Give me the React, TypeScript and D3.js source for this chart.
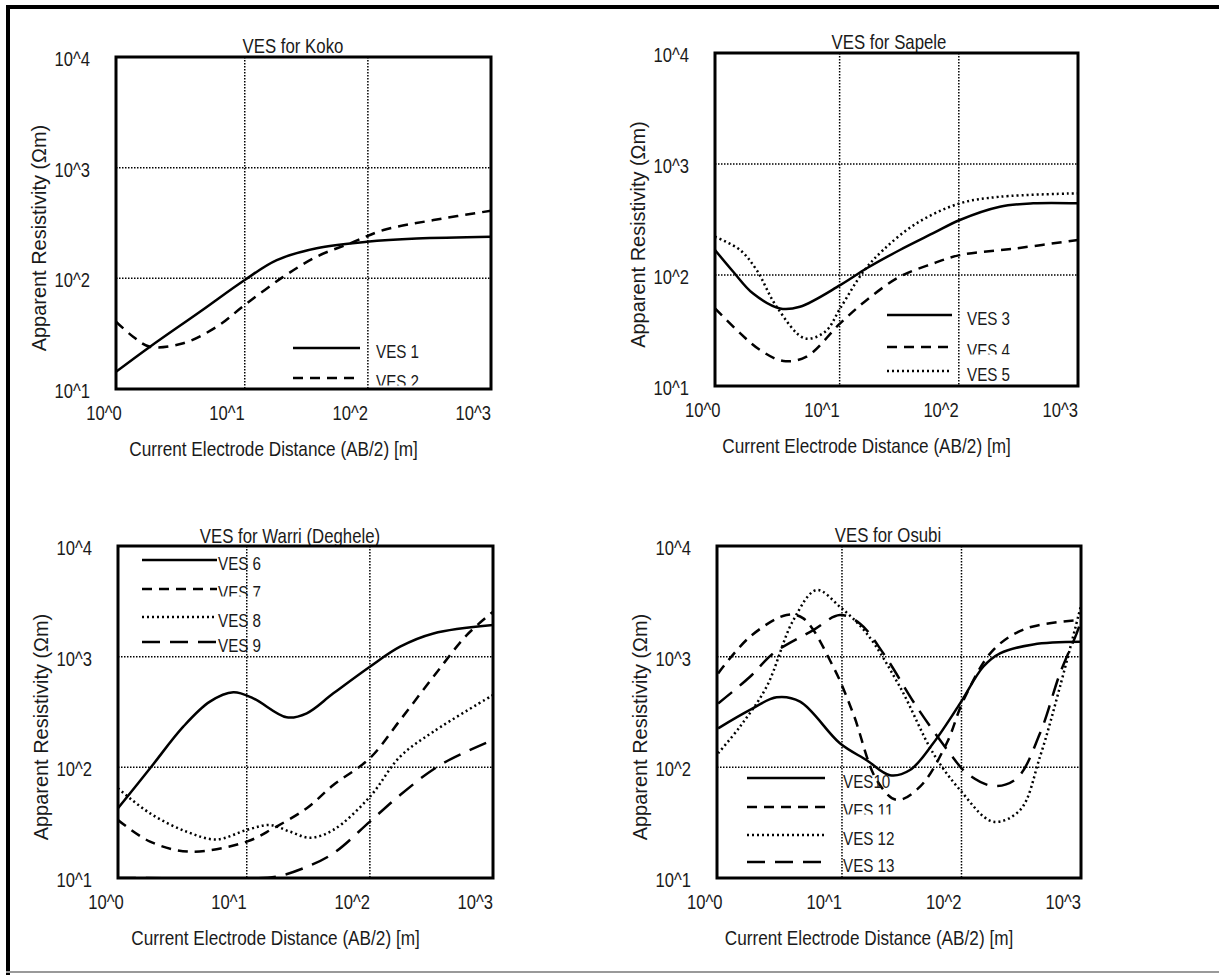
import React, { useEffect, useRef } from "react";
import * as d3 from "d3";

// axis ticks
const xTicks = [1, 10, 100, 1000];
const xTickLabels = ["10^0", "10^1", "10^2", "10^3"];
const yTicks = [10, 100, 1000, 10000];
const yTickLabels = ["10^1", "10^2", "10^3", "10^4"];
const gridX = [10, 100];
const gridY = [100, 1000];

// [AB/2 (m), apparent resistivity (ohm m)]
const ves1 = [[0.9, 14.3], [1.7, 24.1], [4.33, 49.9], [10, 96.6], [18.2, 146], [38.4, 187], [97.8, 214], [249, 229], [1000, 238]];
const ves2 = [[0.9, 40.6], [1.24, 29.7], [1.7, 24.1], [3.17, 25.9], [5.92, 36.5], [10, 57.4], [20.5, 103], [38.4, 157], [71.6, 207], [134, 273], [341, 336], [1000, 408]];

const ves3 = [[0.9, 168], [1.28, 107], [1.88, 68], [3.16, 50], [4.64, 51.8], [10.1, 81], [16.9, 115], [32, 168], [61, 238], [102, 313], [221, 412], [421, 442], [1000, 442]];
const ves4 = [[0.9, 50], [1.46, 29.9], [2.15, 21.1], [3.37, 16.8], [5.28, 18.4], [10.1, 36.7], [16.9, 59.6], [32, 96.7], [61, 127], [102, 151], [305, 174], [1000, 207]];
const ves5 = [[0.9, 221], [1.46, 168], [2.01, 111], [2.96, 51.8], [5.1, 26.9], [7.6, 31], [10.1, 50], [15.8, 107], [23.2, 168], [44.2, 292], [102, 442], [221, 507], [1000, 544]];

const ves6 = [[0.9, 42.7], [1.64, 98], [3.05, 233], [5.02, 392], [7.78, 476], [11.3, 420], [21.1, 283], [30.7, 308], [50.5, 466], [100, 811], [176, 1230], [328, 1620], [1000, 1930]];
const ves7 = [[0.9, 33.4], [1.64, 21.3], [3.46, 17.3], [10, 21.3], [16.4, 28.1], [30.7, 42.7], [50.5, 69.2], [100, 121], [176, 267], [328, 658], [612, 1566], [1000, 2546]];
const ves8 = [[0.9, 64.6], [1.64, 38.4], [3.25, 26.2], [5.7, 22.3], [10, 27.2], [15.5, 30.1], [22.5, 26.2], [32.7, 23.1], [50.5, 27.2], [100, 54.2], [176, 125], [328, 210], [1000, 450]];
const ves9 = [[0.9, 10], [4, 9.95], [10, 9.9], [17.5, 10.3], [30.7, 12.6], [50.5, 16.7], [100, 32.3], [176, 56.2], [372, 105], [1000, 177]];

const ves10 = [[0.92, 225], [1.7, 330], [2.84, 429], [4.46, 392], [9.6, 165], [16.1, 116], [25.2, 85], [37.1, 94.6], [58, 165], [97.3, 378], [152, 811], [210, 1071], [399, 1291], [1000, 1364]];
const ves11 = [[0.92, 706], [1.7, 1514], [3.44, 2377], [4.75, 2218], [8.45, 811], [12.4, 307], [19.5, 76.8], [28.7, 50.7], [45, 66.9], [75.2, 165], [104, 405], [184, 1148], [351, 1803], [1000, 2143]];
const ves12 = [[0.92, 134], [1.4, 233], [2.34, 535], [3.92, 2143], [6.14, 4000], [9.6, 2825], [16.1, 1622], [30.5, 535], [58, 134], [97.3, 62.4], [184, 32.3], [309, 41.1], [454, 125], [667, 535], [1000, 2900]];
const ves13 = [[0.92, 378], [1.7, 658], [2.66, 1071], [5.75, 1738], [9.6, 2377], [14.1, 1995], [22.2, 1071], [42.2, 352], [80, 134], [111, 88.3], [184, 67.8], [290, 79.4], [454, 203], [667, 706], [920, 1622], [1000, 2100]];

const dashes: Record<string, string | null> = {
  solid: null,
  dash: "10 7",
  dot: "2 3",
  longdash: "18 10",
};

const FONT = "'Liberation Sans', Arial, sans-serif";

const panels = [
  {
    title: "VES for Koko",
    box: { left: 116, top: 57, width: 375, height: 332 },
    titleX: 293, titleY: 53,
    series: [
      { name: "VES 1", data: ves1, style: "solid" },
      { name: "VES 2", data: ves2, style: "dash" },
    ],
    legend: { x1: 293, x2: 360, tx: 376, ys: [348, 378] },
  },
  {
    title: "VES for Sapele",
    box: { left: 715, top: 53, width: 363, height: 333 },
    titleX: 889, titleY: 49,
    series: [
      { name: "VES 3", data: ves3, style: "solid" },
      { name: "VES 4", data: ves4, style: "dash" },
      { name: "VES 5", data: ves5, style: "dot" },
    ],
    legend: { x1: 887, x2: 952, tx: 967, ys: [315, 347, 371] },
  },
  {
    title: "VES for Warri (Deghele)",
    box: { left: 118, top: 546, width: 375, height: 332 },
    titleX: 290, titleY: 543,
    series: [
      { name: "VES 6", data: ves6, style: "solid" },
      { name: "VES 7", data: ves7, style: "dash" },
      { name: "VES 8", data: ves8, style: "dot" },
      { name: "VES 9", data: ves9, style: "longdash" },
    ],
    legend: { x1: 142, x2: 217, tx: 218, ys: [560, 589, 617, 642] },
  },
  {
    title: "VES for Osubi",
    box: { left: 717, top: 546, width: 364, height: 332 },
    titleX: 888, titleY: 542,
    series: [
      { name: "VES10", data: ves10, style: "solid" },
      { name: "VES 11", data: ves11, style: "dash" },
      { name: "VES 12", data: ves12, style: "dot" },
      { name: "VES 13", data: ves13, style: "longdash" },
    ],
    legend: { x1: 747, x2: 825, tx: 843, ys: [778, 807, 835, 862] },
  },
];

// condensed text: the original uses a narrow face, so squeeze Liberation Sans
function addText(parent: any, x: number, y: number, str: string, size: number, anchor: string, sx: number, rotate = false) {
  return parent
    .append("text")
    .attr("transform", `translate(${x},${y})${rotate ? " rotate(-90)" : ""} scale(${sx},1)`)
    .attr("text-anchor", anchor)
    .attr("font-size", size)
    .attr("fill", "#1a1a1a")
    .text(str);
}

const App = () => {
  const svgRef = useRef<SVGSVGElement | null>(null);

  useEffect(() => {
    const svg = d3.select(svgRef.current);
    svg.selectAll("*").remove();
    svg.attr("width", 1219).attr("height", 975).style("font-family", FONT);

    svg.append("rect").attr("width", 1219).attr("height", 975).attr("fill", "#fff");

    // outer frame
    svg.append("line").attr("x1", 6).attr("x2", 1219).attr("y1", 7).attr("y2", 7)
      .attr("stroke", "#000").attr("stroke-width", 4);
    svg.append("line").attr("x1", 8).attr("x2", 8).attr("y1", 5).attr("y2", 975)
      .attr("stroke", "#000").attr("stroke-width", 4);
    svg.append("line").attr("x1", 6).attr("x2", 1219).attr("y1", 972).attr("y2", 972)
      .attr("stroke", "#999").attr("stroke-width", 2);

    panels.forEach((p, pi) => {
      const { left, top, width, height } = p.box;
      const x = d3.scaleLog().domain([0.9, 1000]).range([left, left + width]);
      const y = d3.scaleLog().domain([10, 10000]).range([top + height, top]);

      const clipId = `clip-${pi}`;
      svg.append("clipPath").attr("id", clipId)
        .append("rect").attr("x", left).attr("y", top).attr("width", width).attr("height", height);

      const g = svg.append("g");

      // title sits under the frame so the descender gets cut like the original
      addText(g, p.titleX, p.titleY, p.title, 20, "middle", 0.84);

      // dotted grid
      gridX.forEach((v) => {
        g.append("line").attr("x1", x(v)).attr("x2", x(v)).attr("y1", top).attr("y2", top + height)
          .attr("stroke", "#000").attr("stroke-width", 1.5).attr("stroke-dasharray", "1.5 1.5");
      });
      gridY.forEach((v) => {
        g.append("line").attr("x1", left).attr("x2", left + width).attr("y1", y(v)).attr("y2", y(v))
          .attr("stroke", "#000").attr("stroke-width", 1.5).attr("stroke-dasharray", "1.5 1.5");
      });

      const plot = g.append("g").attr("clip-path", `url(#${clipId})`);

      const line = d3.line<number[]>()
        .x((d) => x(d[0]))
        .y((d) => y(d[1]))
        .curve(d3.curveCatmullRom.alpha(0.5));

      p.series.forEach((s) => {
        plot.append("path")
          .attr("d", line(s.data as number[][]))
          .attr("fill", "none")
          .attr("stroke", "#000")
          .attr("stroke-width", 2.5)
          .attr("stroke-dasharray", dashes[s.style]);
      });

      // legend (inside the clipped plot area)
      p.series.forEach((s, i) => {
        const ly = p.legend.ys[i];
        plot.append("line")
          .attr("x1", p.legend.x1).attr("x2", p.legend.x2)
          .attr("y1", ly).attr("y2", ly)
          .attr("stroke", "#000").attr("stroke-width", 2.5)
          .attr("stroke-dasharray", dashes[s.style]);
        const t = addText(plot, p.legend.tx, ly + 10, s.name, 19, "start", 0.8);
        if (i === 1) {
          // the second entry's label is cut at the bottom in the original
          const cid = `lg-clip-${pi}`;
          svg.append("clipPath").attr("id", cid)
            .append("rect").attr("x", p.legend.tx - 5).attr("y", ly - 20).attr("width", 80).attr("height", 27.5);
          t.attr("clip-path", null);
          plot.append("g").attr("clip-path", `url(#${cid})`).node().appendChild(t.node());
        }
      });

      // box
      g.append("rect").attr("x", left).attr("y", top).attr("width", width).attr("height", height)
        .attr("fill", "none").attr("stroke", "#000").attr("stroke-width", 3);

      // tick labels
      xTicks.forEach((v, i) => {
        addText(g, x(v), top + height + 31, xTickLabels[i], 21, "end", 0.79);
      });
      yTicks.forEach((v, i) => {
        addText(g, left - 26, y(v) + 9, yTickLabels[i], 21, "end", 0.79);
      });

      // axis labels
      addText(g, left - 70, top + height / 2 + 15, "Apparent Resistivity (Ωm)", 21, "middle", 0.95, true);
      addText(g, left + width / 2 - 30, top + height + 67, "Current Electrode Distance (AB/2) [m]", 20, "middle", 0.86);
    });
  }, []);

  return (
    <div style={{ position: "absolute", left: 0, top: 0 }}>
      <svg ref={svgRef}></svg>
    </div>
  );
};

export default App;
